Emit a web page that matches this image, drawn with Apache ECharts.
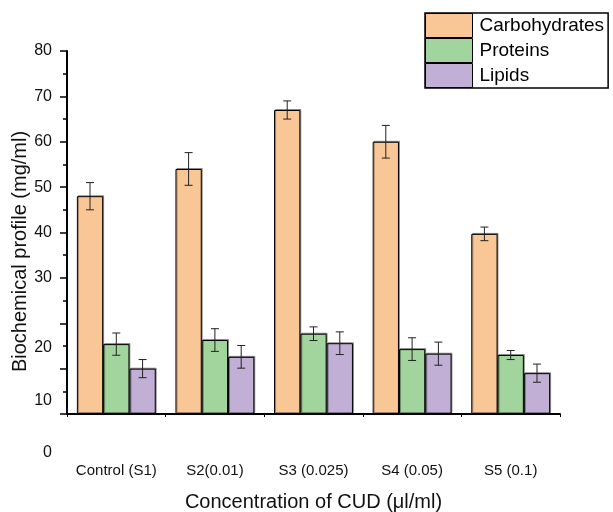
<!DOCTYPE html>
<html>
<head>
<meta charset="utf-8">
<script src="https://cdn.jsdelivr.net/npm/echarts@6/dist/echarts.min.js"></script>
<style>html,body{margin:0;padding:0;background:#fff;}#c{width:613px;height:512px;}</style>
</head>
<body>
<div id="c"></div>
<script>
var categories = ['Control (S1)', 'S2(0.01)', 'S3 (0.025)', 'S4 (0.05)', 'S5 (0.1)'];
var seriesNames = ['Carbohydrates', 'Proteins', 'Lipids'];
var carbohydrates = [48.0, 54.0, 67.0, 60.0, 39.7];
var carbohydratesErr = [3.0, 3.6, 2.0, 3.6, 1.5];
var proteins = [15.4, 16.3, 17.7, 14.3, 13.0];
var proteinsErr = [2.45, 2.5, 1.5, 2.5, 1.0];
var lipids = [10.0, 12.6, 15.6, 13.3, 9.0];
var lipidsErr = [2.0, 2.5, 2.5, 2.55, 2.0];
var yTickLabels = ['0', '10', '20', '30', '40', '50', '60', '70', '80'];

var values = [carbohydrates, proteins, lipids];
var errs = [carbohydratesErr, proteinsErr, lipidsErr];
var colors = ['#F9C796', '#A1D59D', '#C1AFD5'];

var chart = echarts.init(document.getElementById('c'));
var font = 'Liberation Sans, Arial, sans-serif';

function errSeries(i) {
  var data = categories.map(function (c, j) { return [j, values[i][j], errs[i][j]]; });
  return {
    type: 'custom',
    name: seriesNames[i] + ' err',
    z: 10,
    silent: true,
    renderItem: function (params, api) {
      var x = api.value(0), v = api.value(1), e = api.value(2);
      var band = api.size([1, 0])[0];
      var off = (i - 1) * band * 0.8 / 3;
      var top = api.coord([x, v + e]);
      var bot = api.coord([x, v - e]);
      var cx = top[0] + off;
      var hw = 4;
      var st = { stroke: '#222', lineWidth: 1 };
      return {
        type: 'group',
        children: [
          { type: 'line', shape: { x1: cx, y1: top[1], x2: cx, y2: bot[1] }, style: st },
          { type: 'line', shape: { x1: cx - hw, y1: top[1], x2: cx + hw, y2: top[1] }, style: st },
          { type: 'line', shape: { x1: cx - hw, y1: bot[1], x2: cx + hw, y2: bot[1] }, style: st }
        ]
      };
    },
    data: data
  };
}

var labelShift = { '20': 'a', '10': 'b', '0': 'c' };

var series = [];
for (var i = 0; i < 3; i++) {
  series.push({
    type: 'bar',
    name: seriesNames[i],
    data: values[i],
    barGap: '0%',
    barCategoryGap: '20%',
    itemStyle: {
      color: colors[i], borderColor: '#000', borderWidth: 1,
      shadowColor: 'rgba(0,0,0,0.35)', shadowBlur: 0, shadowOffsetX: 1, shadowOffsetY: -1
    }
  });
}
for (var k = 0; k < 3; k++) series.push(errSeries(k));

chart.setOption({
  animation: false,
  backgroundColor: '#fff',
  textStyle: { fontFamily: font },
  grid: { left: 67, right: 53, top: 51, bottom: 98, outerBoundsMode: 'none', containLabel: false },
  legend: {
    data: seriesNames,
    orient: 'vertical',
    left: 425,
    top: 13,
    icon: 'rect',
    itemWidth: 47,
    itemHeight: 24,
    itemGap: 0,
    padding: [0, 4, 0, 0],
    borderColor: '#000',
    borderWidth: 1.5,
    itemStyle: { borderColor: '#000', borderWidth: 1, shadowColor: 'transparent' },
    textStyle: { fontSize: 19, color: '#000', fontFamily: font, padding: [0, 0, 0, 2] }
  },
  xAxis: [{
    type: 'category',
    data: categories,
    axisLine: { lineStyle: { color: '#000', width: 2 } },
    axisTick: { alignWithLabel: true, length: 7, lineStyle: { color: '#000', width: 1.5 } },
    axisLabel: { margin: 49, fontSize: 15, color: '#111', fontFamily: font, interval: 0 },
    name: 'Concentration of CUD (\u03bcl/ml)',
    nameLocation: 'middle',
    nameGap: 78,
    nameMoveOverlap: false,
    nameTextStyle: { fontSize: 20, color: '#111', fontFamily: font }
  }, {
    type: 'category',
    data: categories,
    position: 'bottom',
    axisLine: { show: false },
    axisTick: { show: true, length: 3, lineStyle: { color: '#000', width: 1 } },
    axisLabel: { show: false }
  }],
  yAxis: {
    type: 'value',
    min: 0,
    max: 80,
    interval: 10,
    splitLine: { show: false },
    axisLine: { show: true, lineStyle: { color: '#000', width: 2 } },
    axisTick: { show: true, length: 7, lineStyle: { color: '#000', width: 1.5 } },
    minorTick: { show: true, splitNumber: 2, length: 4, lineStyle: { color: '#000', width: 1.5 } },
    axisLabel: {
      margin: 15,
      fontSize: 16,
      color: '#111',
      fontFamily: font,
      formatter: function (v) {
        var s = yTickLabels[Math.round(v / 10)];
        var key = labelShift[s];
        return key ? '{' + key + '|' + s + '}' : s;
      },
      rich: {
        a: { fontSize: 16, padding: [48, 0, 0, 0] },
        b: { fontSize: 16, padding: [64, 0, 0, 0] },
        c: { fontSize: 16, padding: [78, 0, 0, 0] }
      }
    },
    name: 'Biochemical profile (mg/ml)',
    nameLocation: 'middle',
    nameGap: 37,
    nameMoveOverlap: false,
    nameTextStyle: { fontSize: 20, color: '#111', fontFamily: font, padding: [0, 38, 0, 0] }
  },
  series: series
});
</script>
</body>
</html>
